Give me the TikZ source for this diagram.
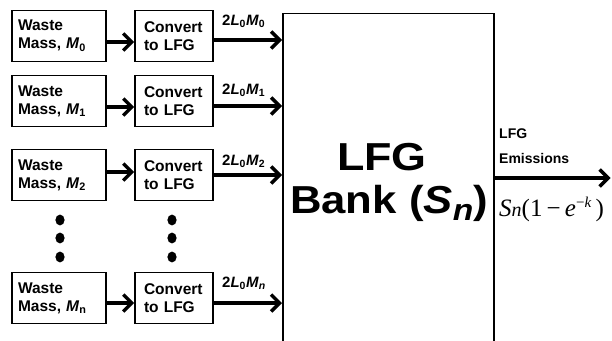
\documentclass[tikz,border=0pt]{standalone}
\usepackage{fontspec}
\setmainfont{Liberation Sans}
\newfontfamily\serifx{Liberation Serif}
\usetikzlibrary{arrows.meta}
\tikzset{
  wbox/.style={draw, line width=1.7pt, align=left, text width=82pt, inner xsep=6pt, inner ysep=0pt,
    minimum height=51pt, font=\fontsize{15.5}{18}\selectfont\bfseries},
  cbox/.style={draw, line width=1.7pt, align=left, text width=60pt, inner xsep=9pt, inner ysep=0pt,
    minimum height=51pt, font=\fontsize{15.5}{18}\selectfont\bfseries},
  arr/.style={line width=3.4pt, -{Straight Barb[length=8.5pt,width=17pt,line width=3.4pt]}},
  lbl/.style={font=\fontsize{15}{17}\selectfont\bfseries, inner sep=0pt},
  bigtxt/.style={font=\fontsize{39}{45}\selectfont\bfseries, inner sep=0pt},
  dotc/.style={fill=black, draw=none}
}
\begin{document}
\begin{tikzpicture}[x=1pt,y=-1pt]
\clip (0,0) rectangle (612,340);
\useasboundingbox (0,0) rectangle (612,340);
\fill[white] (0,0) rectangle (612,340);

% bank (open at the bottom: extends beyond the page)
\node[draw, line width=1.7pt, minimum width=211pt, minimum height=360pt, inner sep=0pt, anchor=north west] (bank) at (282,12.5) {};

% input rows
\node[wbox] (w0) at (59,36) {Waste\\Mass, \textit{M}\textsubscript{0}};
\node[cbox] (c0) at (174,36) {Convert\\to LFG};
\node[wbox] (w1) at (59,101) {Waste\\Mass, \textit{M}\textsubscript{1}};
\node[cbox] (c1) at (174,101) {Convert\\to LFG};
\node[wbox] (w2) at (59,175) {Waste\\Mass, \textit{M}\textsubscript{2}};
\node[cbox] (c2) at (174,175) {Convert\\to LFG};
\node[wbox] (wn) at (59,298) {Waste\\Mass, \textit{M}\textsubscript{n}};
\node[cbox] (cn) at (174,298) {Convert\\to LFG};

% arrows waste -> convert
\draw[arr] (w0.east |- 0,42) -- (c0.west |- 0,42);
\draw[arr] (w1.east |- 0,107) -- (c1.west |- 0,107);
\draw[arr] ([xshift=-1pt]w2.east |- 0,172) -- (c2.west |- 0,172);
\draw[arr] (wn.east |- 0,303) -- (cn.west |- 0,303);

% arrows convert -> bank
\draw[arr] (c0.east |- 0,40) -- (bank.west |- 0,40);
\draw[arr] (c1.east |- 0,106) -- (bank.west |- 0,106);
\draw[arr] (c2.east |- 0,175) -- (bank.west |- 0,175);
\draw[arr] (cn.east |- 0,303) -- (bank.west |- 0,303);

% labels
\node[lbl, anchor=west] (l0) at (222,21) {2\textit{L}\textsubscript{0}\textit{M}\textsubscript{0}};
\node[lbl, anchor=west] (l1) at (222,90) {2\textit{L}\textsubscript{0}\textit{M}\textsubscript{1}};
\node[lbl, anchor=west] (l2) at (222,161) {2\textit{L}\textsubscript{0}\textit{M}\textsubscript{2}};
\node[lbl, anchor=west] (ln) at (222,283) {2\textit{L}\textsubscript{0}\textit{M}\textsubscript{\textit{n}}};

% dots
\foreach \yy [count=\i] in {220,238,257} {
  \fill[dotc] (60,\yy) ellipse [x radius=4.6pt, y radius=5.4pt];
  \fill[dotc] (172,\yy) ellipse [x radius=4.6pt, y radius=5.4pt];
}

% bank text
\node[bigtxt] (t1) at (382,157) {\scalebox{1.15}[1]{LFG}};
\node[bigtxt] (t2) at (389,203) {\scalebox{1.12}[1]{Bank (\textit{S}\raisebox{-7pt}{\fontsize{30}{30}\selectfont\textit{n}})}};

% output
\coordinate (outend) at (612,178);
\draw[arr] (bank.east |- 0,178) -- ([xshift=-1.5pt]outend);
\node[lbl, anchor=west, align=left, font=\fontsize{14}{25}\selectfont\bfseries] (em) at (499,146) {LFG\\Emissions};
\node[anchor=west, inner sep=0pt, font=\serifx\fontsize{25}{27}\selectfont] (fx) at (499,209)
  {\textit{S}{\fontsize{20}{20}\selectfont\textit{n}}(1\,−\,\textit{e}\raisebox{9pt}{\fontsize{15}{15}\selectfont−\textit{k}}\,)};
\end{tikzpicture}
\end{document}
